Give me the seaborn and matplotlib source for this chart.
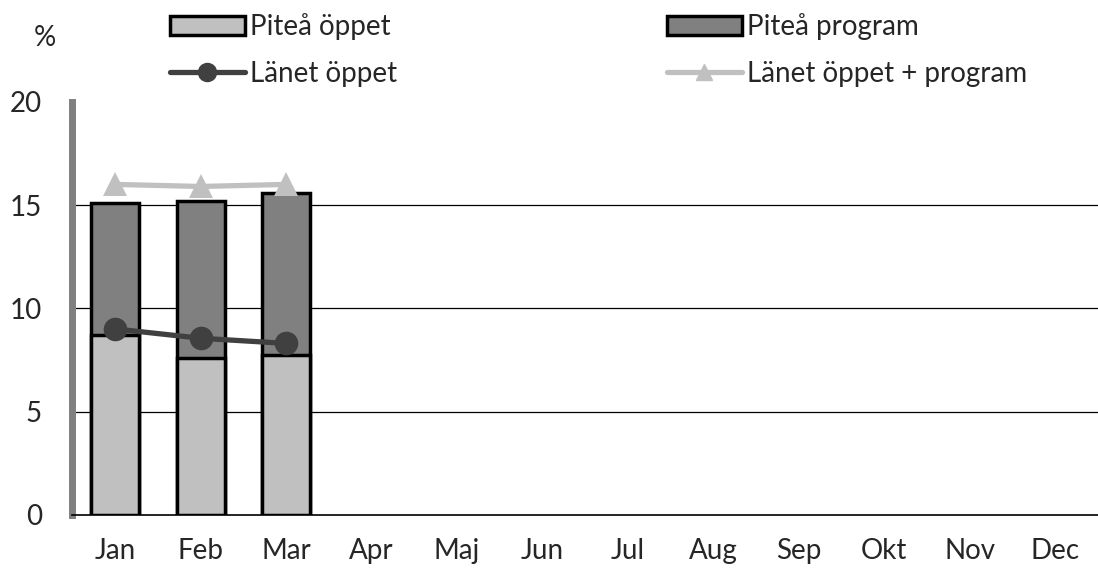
import matplotlib
matplotlib.use("Agg")
import matplotlib.pyplot as plt
import seaborn as sns
import pandas as pd
from matplotlib.patches import Patch
from matplotlib.lines import Line2D

months = ["Jan", "Feb", "Mar", "Apr", "Maj", "Jun",
          "Jul", "Aug", "Sep", "Okt", "Nov", "Dec"]

# only the first three months have data
pitea_oppet = [8.7, 7.6, 7.75]
pitea_program = [6.4, 7.6, 7.85]
lanet_oppet = [9.0, 8.55, 8.3]
lanet_total = [16.0, 15.9, 16.0]

sns.set_style("white")
plt.rcParams["font.family"] = ["Lato", "DejaVu Sans"]

n = len(pitea_oppet)
df = pd.DataFrame({
    "month": months,
    "oppet": pitea_oppet + [0] * (len(months) - n),
    "total": [a + b for a, b in zip(pitea_oppet, pitea_program)] + [0] * (len(months) - n),
})
lines = pd.DataFrame({
    "pos": list(range(n)),
    "lanet": lanet_oppet,
    "lanet_total": lanet_total,
})

light = "#c0c0c0"
dark = "#808080"
line_dark = "#404040"

fig = plt.figure(figsize=(10.98, 5.72), dpi=100)
ax = fig.add_axes([0.066, 0.1, 0.934, 0.722])

sns.barplot(data=df, x="month", y="total", order=months, color=dark,
            saturation=1, width=0.56, edgecolor="black", linewidth=2.5, ax=ax)
sns.barplot(data=df, x="month", y="oppet", order=months, color=light,
            saturation=1, width=0.56, edgecolor="black", linewidth=2.5, ax=ax)

# hide the zero-height bars of months without data
for p in ax.patches:
    if p.get_height() == 0:
        p.set_visible(False)

sns.lineplot(data=lines, x="pos", y="lanet_total", color=light, linewidth=3.8,
             marker="^", markersize=17, markeredgewidth=0, ax=ax, zorder=4)
sns.lineplot(data=lines, x="pos", y="lanet", color=line_dark, linewidth=3.8,
             marker="o", markersize=17, markeredgewidth=0, ax=ax, zorder=5)

ax.set_ylim(0, 20)
ax.set_xlim(-0.5, 11.5)
ax.set_yticks([0, 5, 10, 15, 20])
ax.set_xlabel("")
ax.set_ylabel("")
ax.tick_params(axis="both", length=0, labelsize=20)
ax.tick_params(axis="y", pad=22)
ax.tick_params(axis="x", pad=17)

for y in [5, 10, 15]:
    ax.axhline(y, color="black", linewidth=0.9, zorder=0)

for s in ["top", "right"]:
    ax.spines[s].set_visible(False)
ax.spines["left"].set_color("#808080")
ax.spines["left"].set_linewidth(5)
ax.spines["bottom"].set_color("black")
ax.spines["bottom"].set_linewidth(1.2)

fig.text(0.041, 0.933, "%", fontsize=20, ha="center", va="center")

handles = [
    Patch(facecolor=light, edgecolor="black", linewidth=2.5),
    Line2D([], [], color=line_dark, linewidth=3.8, marker="o", markersize=13),
    Patch(facecolor=dark, edgecolor="black", linewidth=2.5),
    Line2D([], [], color=light, linewidth=3.8, marker="^", markersize=12),
]
labels = ["Piteå öppet", "Länet öppet", "Piteå program", "Länet öppet + program"]
fig.legend(handles, labels, ncol=2, loc="upper left", bbox_to_anchor=(0.132, 1.021),
           frameon=False, fontsize=20, handlelength=2.7, handletextpad=0.18,
           columnspacing=9.7, labelspacing=0.75)

fig.savefig("out.png", dpi=100)
